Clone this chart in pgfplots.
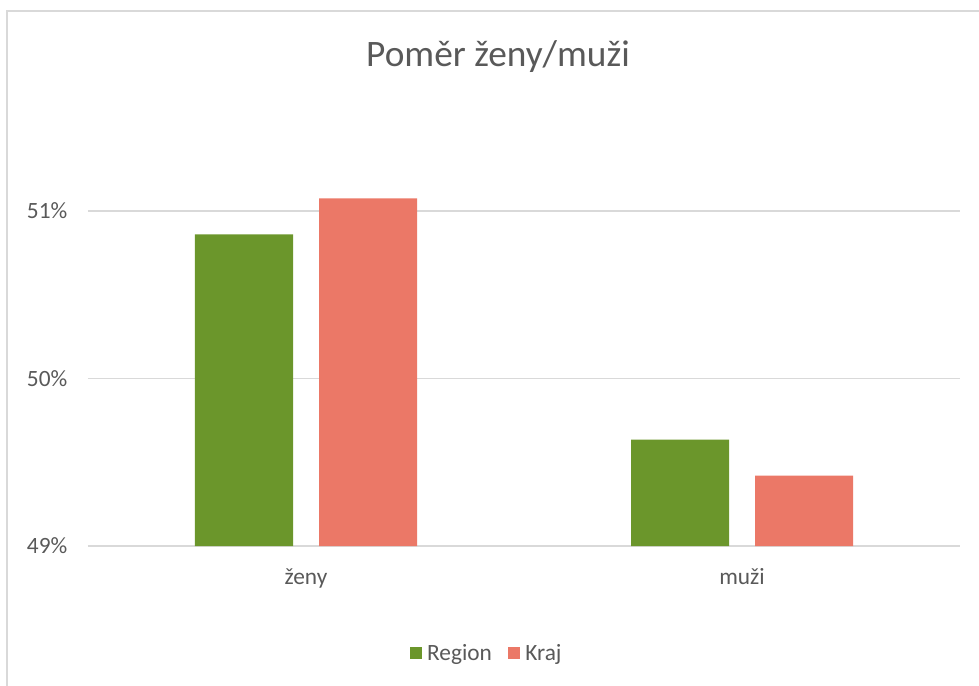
\documentclass[border=0pt]{standalone}
\usepackage{pgfplots}
\pgfplotsset{compat=1.18}
\usepackage{fontspec}
\setmainfont{Carlito}
\definecolor{cgreen}{HTML}{6B962B}
\definecolor{csalmon}{HTML}{EB7867}
\definecolor{ctext}{HTML}{595959}
\definecolor{cgrid}{HTML}{D9D9D9}
\begin{document}
\begin{tikzpicture}[x=1pt,y=1pt]
\useasboundingbox (0,0) rectangle (734.25,514.5);
\draw[cgrid, line width=1.2pt] (5.25,-5) -- (5.25,506.25) -- (740,506.25);
\begin{axis}[
  at={(66pt,105pt)}, anchor=south west,
  scale only axis, width=654pt, height=288.9pt,
  xmin=-0.5, xmax=1.5, ymin=49, ymax=51.3,
  axis line style={draw=none},
  ytick={49,50,51}, yticklabels={49\%,50\%,51\%},
  xtick={0,1}, xticklabels={ženy,muži},
  ymajorgrids, grid style={cgrid, line width=1.1pt},
  major tick length=0pt,
  tick label style={font=\fontsize{17.5}{20}\selectfont, text=ctext},
  yticklabel style={anchor=east, xshift=-12pt},
  xticklabel style={anchor=base, yshift=-29pt},
  ybar, bar width=73.5pt,
  legend style={at={(0.4576,0)}, anchor=center, yshift=-80.25pt, draw=none, legend columns=2,
    font=\fontsize{17.5}{20}\selectfont, text=ctext,
    /tikz/every even column/.append style={column sep=10pt},
    /tikz/every odd column/.append style={column sep=2pt}},
  legend image code/.code={\fill[#1] (0pt,-4.5pt) rectangle (9pt,4.5pt);},
  clip=false,
]
\addplot[fill=cgreen, draw=none, bar shift=-46.5pt] coordinates {(0,50.86) (1,49.635)};
\addplot[fill=csalmon, draw=none, bar shift=46.5pt] coordinates {(0,51.075) (1,49.42)};
\legend{Region,Kraj}
\end{axis}
\node[anchor=base, text=ctext, font=\fontsize{28}{32}\selectfont] at (373.5,464.25) {Poměr ženy/muži};
\end{tikzpicture}
\end{document}
